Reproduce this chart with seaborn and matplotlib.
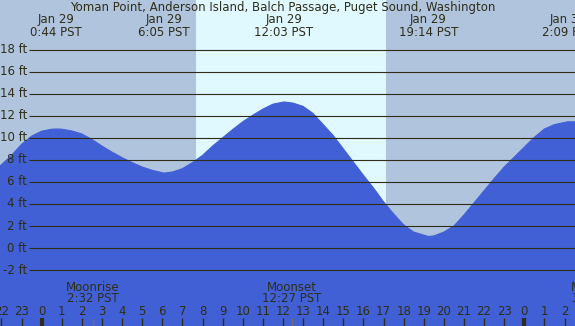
import numpy as np
import pandas as pd
import seaborn as sns
from matplotlib import pyplot as plt
from matplotlib import transforms

sns.set_style('white')
plt.rcParams['font.family'] = ['DejaVu Sans']

# tide heights (hours from midnight Jan 29, feet)
times = [-2.07, -2.0, -1.5, -1.0, -0.5, 0.0, 0.5, 0.73, 1.0, 1.5,
         2.0, 2.5, 3.0, 3.5, 4.0, 4.5, 5.0, 5.5, 6.08, 6.5,
         7.0, 7.5, 8.0, 8.5, 9.0, 9.5, 10.0, 10.5, 11.0, 11.5,
         12.05, 12.5, 13.0, 13.5, 14.0, 14.5, 15.0, 15.5, 16.0, 16.5,
         17.0, 17.5, 18.0, 18.5, 19.23, 19.5, 20.0, 20.5, 21.0, 21.5,
         22.0, 22.5, 23.0, 23.5, 24.0, 24.5, 25.0, 25.5, 26.15, 26.52]
heights = [7.45, 7.55, 8.4, 9.4, 10.15, 10.6, 10.78, 10.8, 10.78, 10.62,
           10.35, 9.85, 9.25, 8.7, 8.2, 7.75, 7.35, 7.05, 6.8, 6.9,
           7.2, 7.75, 8.4, 9.25, 10.0, 10.75, 11.45, 12.05, 12.6, 13.05,
           13.25, 13.15, 12.85, 12.2, 11.2, 10.2, 9.0, 7.8, 6.6, 5.45,
           4.2, 3.1, 2.1, 1.45, 1.05, 1.1, 1.45, 2.0, 3.0, 4.1,
           5.2, 6.3, 7.35, 8.25, 9.15, 10.05, 10.8, 11.2, 11.45, 11.45]

# high / low tide annotations
extreme_times = [0.73, 6.08, 12.05, 19.23, 26.15]
extreme_labels = ['0:44 PST', '6:05 PST', '12:03 PST', '19:14 PST', '2:09 PST']
extreme_dates = ['Jan 29', 'Jan 29', 'Jan 29', 'Jan 29', 'Jan 30']

# moon events
moon_times = [2.53, 12.45, 27.63]
moon_names = ['Moonrise', 'Moonset', 'Moonrise']
moon_labels = ['2:32 PST', '12:27 PST', '3:38 PST']

sunrise, sunset = 7.68, 17.12
ft_levels = [-2, 0, 2, 4, 6, 8, 10, 12, 14, 16, 18]
hour_ticks = list(range(-2, 27))

title = 'Yoman Point, Anderson Island, Balch Passage, Puget Sound, Washington'

night = '#b0c4de'
day = '#e0f8ff'
water = '#4160d6'
ink = '#2e2e18'

xmin, xmax = -2.07, 26.52
ymin, ymax = -7.07, 22.5

df = pd.DataFrame({'hour': times, 'ft': heights})

fig = plt.figure(figsize=(5.75, 3.26), dpi=100)
ax = fig.add_axes([0, 0, 1, 1])
ax.set_facecolor(night)
for s in ax.spines.values():
    s.set_visible(False)

ax.axvspan(sunrise, sunset, color=day, lw=0, zorder=0)
ax.fill_between(df['hour'], df['ft'], ymin, color=water, lw=0, zorder=1)
sns.lineplot(data=df, x='hour', y='ft', ax=ax, color=water, lw=0.8, zorder=1)

# grid lines with labels
ax.hlines(ft_levels, -0.63, xmax, color=ink, lw=0.8, zorder=2)
for lv in ft_levels:
    ax.text(-0.73, lv, f'{lv} ft', ha='right', va='center', fontsize=8.5, color=ink)

trans = transforms.blended_transform_factory(ax.transData, ax.transAxes)

ax.text(12.0, 0.978, title, transform=trans, ha='center', va='center', fontsize=8.5, color=ink)
for t, d, lab in zip(extreme_times, extreme_dates, extreme_labels):
    ax.text(t, 0.94, d, transform=trans, ha='center', va='center', fontsize=8.5, color=ink)
    ax.text(t, 0.90, lab, transform=trans, ha='center', va='center', fontsize=8.5, color=ink)

for t, n, lab in zip(moon_times, moon_names, moon_labels):
    ax.text(t, 0.118, n, transform=trans, ha='center', va='center', fontsize=8.5, color=ink)
    ax.text(t, 0.083, lab, transform=trans, ha='center', va='center', fontsize=8.5, color=ink)
    ax.vlines(t, 0, 0.025, transform=trans, color='#707060', lw=1.0)

for h in hour_ticks:
    ax.text(h, 0.046, str(h % 24), transform=trans, ha='center', va='center', fontsize=8.5, color=ink)
    ax.vlines(h, 0, 0.025, transform=trans, color=ink, lw=3.0 if h % 24 == 0 else 1.0)

ax.set_xlim(xmin, xmax)
ax.set_ylim(ymin, ymax)
ax.set_xticks([])
ax.set_yticks([])
ax.set_xlabel('')
ax.set_ylabel('')

fig.savefig('out.png', dpi=100)
